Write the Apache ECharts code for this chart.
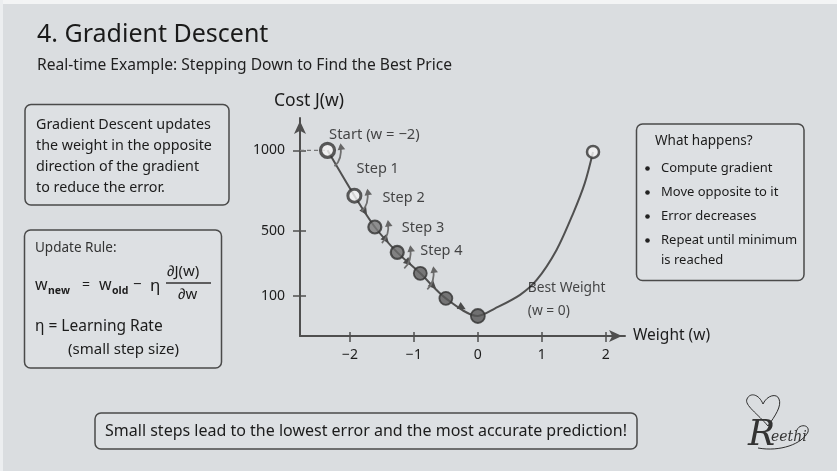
<!DOCTYPE html>
<html>
<head>
<meta charset="utf-8">
<script src="https://cdn.jsdelivr.net/npm/echarts@6/dist/echarts.min.js"></script>
<style>
html,body{margin:0;padding:0;background:#dadde0;}
#c{width:837px;height:471px;}
</style>
</head>
<body>
<div id="c"></div>
<script>
// ---- data ----
const stepWeights = [-2.35, -1.93, -1.61, -1.26, -0.9, -0.5, 0];
const stepCosts   = [1000, 719, 525, 368, 238, 83, -26];
const rightWeights = [0.27, 0.66, 0.92, 1.23, 1.49, 1.67, 1.8];
const rightCosts   = [21, 105, 197, 383, 610, 795, 990];
const xTickValues = [-2, -1, 0, 1, 2];
const yTickValues = [100, 500, 1000];
const stepLabels = ['Step 1', 'Step 2', 'Step 3', 'Step 4'];
const startLabel = 'Start (w = \u22122)';
const bestLabel = 'Best Weight\n(w = 0)';
const xName = 'Weight (w)';
const yName = 'Cost J(w)';
const bulletItems = ['Compute gradient', 'Move opposite to it', 'Error decreases', 'Repeat until minimum'];

// ---- styles ----
const FONT = '"Noto Sans", sans-serif';
const INK = '#1c1c1c';
const LINE = '#4f4f4f';
const xMin = -2.78, xMax = 2.3, yMin = -150, yMax = 1200;

const markerStyles = [
  {color:'#f4f4f4', borderColor:'#333', borderWidth:3.2, size:14},
  {color:'#f4f4f4', borderColor:'#333', borderWidth:3, size:13},
  {color:'#7a7a7a', borderColor:'#333', borderWidth:2.2, size:13},
  {color:'#6a6a6a', borderColor:'#333', borderWidth:2.2, size:13},
  {color:'#5e5e5e', borderColor:'#333', borderWidth:1.8, size:13},
  {color:'#5a5a5a', borderColor:'#333', borderWidth:1.8, size:13},
  {color:'#555', borderColor:'#333', borderWidth:1.8, size:14}
];
const endStyle = {color:'#f4f4f4', borderColor:'#333', borderWidth:2.5, size:12};
const stepLabelOffsets = [[24,19],[23,2],[22,1],[18,-1]];

const curveData = stepWeights.map((w,i)=>[w, stepCosts[i]])
  .concat(rightWeights.map((w,i)=>[w, rightCosts[i]]));

const markerData = stepWeights.map((w,i)=>{
  const s = markerStyles[i];
  return {value:[w, stepCosts[i]], symbolSize:s.size,
    itemStyle:{color:s.color, borderColor:s.borderColor, borderWidth:s.borderWidth}};
});
const endIdx = rightWeights.length - 1;
markerData.push({value:[rightWeights[endIdx], rightCosts[endIdx]], symbolSize:endStyle.size,
  itemStyle:{color:endStyle.color, borderColor:endStyle.borderColor, borderWidth:endStyle.borderWidth}});
markerData[0].label = {show:true, formatter:startLabel, position:'right', offset:[-12,-16],
  fontSize:14.8, color:INK, fontFamily:FONT};
markerData[6].label = {show:true, formatter:bestLabel, position:'right', offset:[37,-16],
  fontSize:13.8, color:INK, fontFamily:FONT, align:'left', lineHeight:23};

const stepLabelData = stepLabels.map((t,i)=>({
  value:[stepWeights[i], stepCosts[i]],
  label:{show:true, formatter:t, position:'right', offset:stepLabelOffsets[i]}
}));

const segData = [];
for (let i = 1; i < stepWeights.length - 1; i++) {
  segData.push([stepWeights[i], stepCosts[i], stepWeights[i+1], stepCosts[i+1]]);
}
const gradData = stepWeights.slice(0,5).map((w,i)=>[w, stepCosts[i]]);

function arrowHead(tx, ty, ang, len, half, fill){
  const bx = tx - Math.cos(ang)*len, by = ty - Math.sin(ang)*len;
  const nx = -Math.sin(ang)*half, ny = Math.cos(ang)*half;
  return {type:'polygon', shape:{points:[[tx,ty],[bx+nx,by+ny],[bx-nx,by-ny]]}, style:{fill:fill}};
}
function curve(x1,y1,c1x,c1y,c2x,c2y,x2,y2,w){
  return {type:'bezierCurve', shape:{x1:x1,y1:y1,cpx1:c1x,cpy1:c1y,cpx2:c2x,cpy2:c2y,x2:x2,y2:y2},
    style:{stroke:'#2e2e2e', lineWidth:w||1, fill:null}, silent:true};
}

const chart = echarts.init(document.getElementById('c'), null, {renderer:'canvas'});
chart.setOption({
  backgroundColor:'#dadde0',
  animation:false,
  textStyle:{fontFamily:FONT},
  grid:{left:300, right:212, top:118, bottom:135, containLabel:false},
  xAxis:[{
    type:'value', min:xMin, max:xMax, position:'bottom',
    name:xName, nameLocation:'end', nameGap:8,
    nameTextStyle:{fontSize:15.5, color:INK, align:'left', verticalAlign:'middle', padding:[0,0,18,0]},
    axisLine:{onZero:false, lineStyle:{color:LINE, width:2}, symbol:['none','arrow'], symbolSize:[9,13], symbolOffset:[0,-3]},
    axisTick:{show:true, customValues:xTickValues, length:6, lineStyle:{color:LINE, width:1.5}},
    axisLabel:{customValues:xTickValues, fontSize:14, color:INK, margin:12,
      formatter:v=>String(v).replace('-', '\u2212')},
    splitLine:{show:false}
  },{
    type:'value', min:xMin, max:xMax, position:'bottom',
    axisLine:{show:false, onZero:false},
    axisTick:{show:true, inside:true, customValues:xTickValues, length:4, lineStyle:{color:LINE, width:1.5}},
    axisLabel:{show:false}, splitLine:{show:false}
  }],
  yAxis:[{
    type:'value', min:yMin, max:yMax, position:'left',
    name:yName, nameLocation:'end', nameGap:8,
    nameTextStyle:{fontSize:17.5, color:INK, align:'center', padding:[0,0,0,18]},
    axisLine:{onZero:false, lineStyle:{color:LINE, width:2}, symbol:['none','arrow'], symbolSize:[9,13], symbolOffset:[0,-3]},
    axisTick:{show:true, customValues:yTickValues, length:7, lineStyle:{color:LINE, width:1.5}},
    axisLabel:{customValues:yTickValues, fontSize:14, color:INK, margin:15, formatter:v=>String(v)},
    splitLine:{show:false}
  },{
    type:'value', min:yMin, max:yMax, position:'left',
    axisLine:{show:false, onZero:false},
    axisTick:{show:true, inside:true, customValues:yTickValues, length:6, lineStyle:{color:LINE, width:1.5}},
    axisLabel:{show:false}, splitLine:{show:false}
  }],
  series:[
    {
      type:'line', name:'guide', data:[[xMin, stepCosts[0]],[stepWeights[0], stepCosts[0]]],
      symbol:'none', lineStyle:{color:'#777', width:1.3, type:[4,3]}, silent:true
    },
    {
      type:'line', name:'cost curve', data:curveData, smooth:0.3,
      symbol:'none', lineStyle:{color:'#505050', width:2}, silent:true, z:2
    },
    {
      type:'custom', name:'step arrows', data:segData, z:3, silent:true,
      encode:{x:[0,2], y:[1,3]},
      renderItem:function(params, api){
        const a = api.coord([api.value(0), api.value(1)]);
        const b = api.coord([api.value(2), api.value(3)]);
        const t = 0.62;
        const tx = a[0] + (b[0]-a[0])*t, ty = a[1] + (b[1]-a[1])*t;
        const ang = Math.atan2(b[1]-a[1], b[0]-a[0]);
        return arrowHead(tx, ty, ang, 8, 4, '#4a4a4a');
      }
    },
    {
      type:'custom', name:'gradient arrows', data:gradData, z:3, silent:true,
      renderItem:function(params, api){
        const p = api.coord([api.value(0), api.value(1)]);
        const x0 = p[0]+7, y0 = p[1]+16, cx = p[0]+15, cy = p[1]+9, x1 = p[0]+13, y1 = p[1]-5;
        const ang = Math.atan2(y1-cy, x1-cx);
        return {type:'group', children:[
          {type:'bezierCurve', shape:{x1:x0, y1:y0, cpx1:cx, cpy1:cy, x2:x1, y2:y1},
            style:{stroke:'#6f6f6f', lineWidth:1.8, fill:null}},
          arrowHead(x1, y1-2, ang, 6.5, 3.8, '#666')
        ]};
      }
    },
    {
      type:'scatter', name:'steps', data:markerData, z:5,
      label:{color:INK, fontFamily:FONT}
    },
    {
      type:'scatter', name:'step labels', data:stepLabelData, symbolSize:0, z:6,
      label:{show:true, fontSize:14.5, color:INK, fontFamily:FONT}
    }
  ],
  graphic:[
    {type:'rect', shape:{x:0,y:0,width:837,height:4}, style:{fill:'#f3f4f5'}, silent:true},
    {type:'rect', shape:{x:0,y:0,width:3,height:471}, style:{fill:'#eceef0'}, silent:true},
    {type:'text', style:{text:'4. Gradient Descent', x:37, y:35, fontSize:25, fontFamily:FONT, fill:'#1a1a1a', verticalAlign:'middle'}},
    {type:'text', style:{text:'Real-time Example: Stepping Down to Find the Best Price', x:37, y:66, fontSize:15.6, fontFamily:FONT, fill:'#1f1f1f', verticalAlign:'middle'}},

    {type:'rect', shape:{x:25,y:104.5,width:204,height:100.5,r:6}, style:{fill:'rgba(255,255,255,0.10)', stroke:'#4a4a4a', lineWidth:1.5}},
    {type:'text', style:{text:'Gradient Descent updates\nthe weight in the opposite\ndirection of the gradient\nto reduce the error.', x:36, y:114, fontSize:14.3, lineHeight:21, fontFamily:FONT, fill:INK, verticalAlign:'top'}},

    {type:'rect', shape:{x:24.5,y:230,width:197,height:138,r:6}, style:{fill:'rgba(255,255,255,0.10)', stroke:'#4a4a4a', lineWidth:1.5}},
    {type:'text', style:{text:'Update Rule:', x:35, y:248, fontSize:13.5, fontFamily:FONT, fill:'#333', verticalAlign:'middle'}},
    {type:'text', style:{text:'w', x:35, y:285, fontSize:16, fontFamily:FONT, fill:INK, verticalAlign:'middle'}},
    {type:'text', style:{text:'new', x:48, y:291, fontSize:10.5, fontWeight:'bold', fontFamily:FONT, fill:INK, verticalAlign:'middle'}},
    {type:'text', style:{text:'=', x:82, y:285, fontSize:14, fontFamily:FONT, fill:INK, verticalAlign:'middle'}},
    {type:'text', style:{text:'w', x:99, y:285, fontSize:16, fontFamily:FONT, fill:INK, verticalAlign:'middle'}},
    {type:'text', style:{text:'old', x:112, y:291, fontSize:10.5, fontWeight:'bold', fontFamily:FONT, fill:INK, verticalAlign:'middle'}},
    {type:'text', style:{text:'\u2212', x:133, y:285, fontSize:15, fontFamily:FONT, fill:INK, verticalAlign:'middle'}},
    {type:'text', style:{text:'\u03b7', x:150, y:286, fontSize:17, fontFamily:FONT, fill:INK, verticalAlign:'middle'}},
    {type:'text', style:{text:'\u2202J(w)', x:167, y:272, fontSize:15, fontFamily:FONT, fill:INK, verticalAlign:'middle'}},
    {type:'line', shape:{x1:166,y1:283,x2:211,y2:283}, style:{stroke:'#333', lineWidth:1.3}},
    {type:'text', style:{text:'\u2202w', x:178, y:295, fontSize:15, fontFamily:FONT, fill:INK, verticalAlign:'middle'}},
    {type:'text', style:{text:'\u03b7 = Learning Rate', x:35, y:327, fontSize:15.5, fontFamily:FONT, fill:INK, verticalAlign:'middle'}},
    {type:'text', style:{text:'(small step size)', x:68, y:350, fontSize:15, fontFamily:FONT, fill:INK, verticalAlign:'middle'}},

    {type:'rect', shape:{x:636.5,y:124,width:167.5,height:156.5,r:6}, style:{fill:'rgba(255,255,255,0.10)', stroke:'#4a4a4a', lineWidth:1.5}},
    {type:'text', style:{text:'What happens?', x:655, y:141.5, fontSize:13.5, fontFamily:FONT, fill:INK, verticalAlign:'middle'}},
    {type:'group', children: bulletItems.map((t,i)=>({
      type:'group', children:[
        {type:'circle', shape:{cx:647.5, cy:168.5+i*24, r:2.3}, style:{fill:'#222'}},
        {type:'text', style:{text:t, x:661, y:168.5+i*24, fontSize:13, fontFamily:FONT, fill:INK, verticalAlign:'middle'}}
      ]}))},
    {type:'text', style:{text:'is reached', x:661, y:260, fontSize:13, fontFamily:FONT, fill:INK, verticalAlign:'middle'}},

    {type:'rect', shape:{x:95,y:413,width:542,height:36,r:6}, style:{fill:'rgba(255,255,255,0.10)', stroke:'#4a4a4a', lineWidth:1.5}},
    {type:'text', style:{text:'Small steps lead to the lowest error and the most accurate prediction!', x:366, y:431.5, fontSize:16, fontFamily:FONT, fill:INK, align:'center', verticalAlign:'middle'}},

    curve(768,426, 758,414, 744,405, 747,399),
    curve(747,399, 750,392, 759,394, 763,404),
    curve(763,404, 767,395, 777,393, 779,399),
    curve(779,399, 782,406, 775,416, 768,426),
    {type:'text', style:{text:'R', x:748, y:436, fontSize:36, fontStyle:'italic', fontFamily:'"DejaVu Serif", serif', fill:'#333', verticalAlign:'middle'}},
    {type:'text', style:{text:'eethi', x:771, y:437, fontSize:14, fontStyle:'italic', fontFamily:'"DejaVu Serif", serif', fill:'#333', verticalAlign:'middle'}},
    curve(758,448, 780,452, 802,444, 808,432),
    curve(808,432, 810,424, 799,424, 797,430)
  ]
});
</script>
</body>
</html>
